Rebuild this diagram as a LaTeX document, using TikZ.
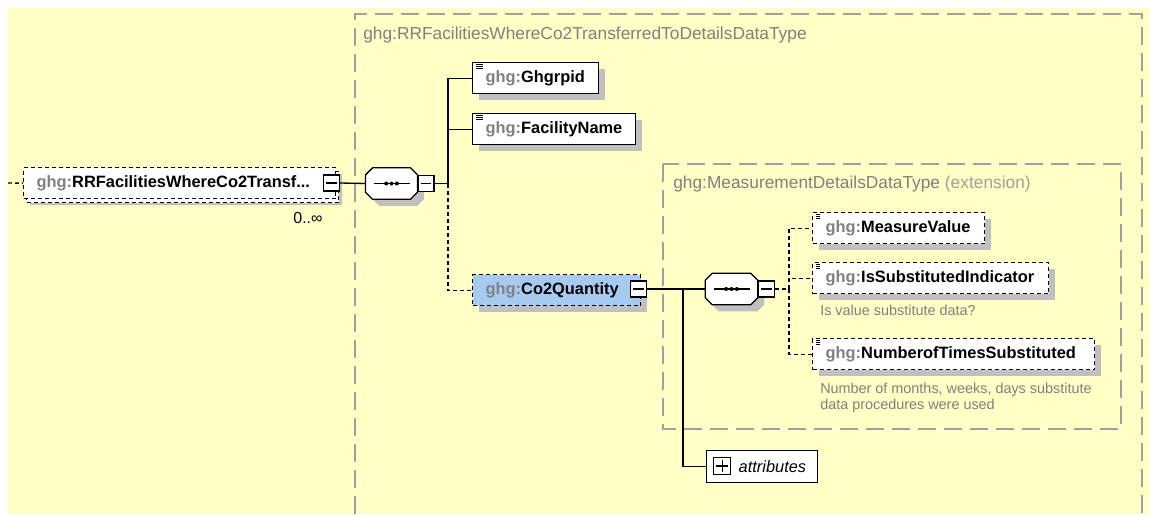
\documentclass[tikz,border=0pt]{standalone}
\usepackage{fontspec}
\setmainfont{Liberation Sans}
\usepackage{tikz}
\usetikzlibrary{shadows}
\definecolor{xsbg}{HTML}{FFFFC6}
\definecolor{xsgray}{HTML}{A0A0A0}
\definecolor{xsshadow}{HTML}{C0C0C0}
\definecolor{xsblue}{HTML}{A6CAF0}
\definecolor{xstext}{HTML}{808080}
\newcommand{\ghg}{\textcolor{xstext}{ghg:}}

\begin{document}
\begin{tikzpicture}[x=0.75pt,y=-0.75pt,
  elem/.style={draw, fill=white, line width=1pt, anchor=north west, inner xsep=9.75pt, inner ysep=0pt,
    minimum height=23.25pt, align=left, font=\fontsize{12.3}{14}\selectfont\bfseries,
    drop shadow={shadow xshift=5pt, shadow yshift=-5pt, fill=xsshadow, opacity=1}},
  optional/.style={dash pattern=on 3pt off 2.25pt},
  doc/.style={path picture={\foreach \k in {0,1,2}
    \draw[line width=0.6pt] ([xshift=2.5pt,yshift={-1.6pt-1.5pt*\k}]path picture bounding box.north west) -- ++(5pt,0);}},
  seqgrp/.style={minimum width=38.5pt, minimum height=23.25pt, inner sep=0pt},
  octagon/.style={insert path={([xshift=5.25pt]#1.north west) -- ([xshift=-5.25pt]#1.north east)
    -- ([yshift=-5.25pt]#1.north east) -- ([yshift=5.25pt]#1.south east) -- ([xshift=-5.25pt]#1.south east)
    -- ([xshift=5.25pt]#1.south west) -- ([yshift=5.25pt]#1.south west) -- ([yshift=-5.25pt]#1.north west) -- cycle}},
  minusbox/.style={draw, fill=white, line width=0.9pt, minimum size=12pt, inner sep=0pt, anchor=west,
    path picture={\draw[black, line width=0.9pt] ([xshift=-4pt]path picture bounding box.center) -- ([xshift=4pt]path picture bounding box.center);}},
  plusbox/.style={draw, fill=white, line width=0.9pt, minimum size=12.75pt, inner sep=0pt, anchor=west,
    path picture={\draw[black, line width=0.9pt] ([xshift=-4.5pt]path picture bounding box.center) -- ([xshift=4.5pt]path picture bounding box.center);
      \draw[black, line width=0.9pt] ([yshift=-4.5pt]path picture bounding box.center) -- ([yshift=4.5pt]path picture bounding box.center);}},
  attrbox/.style={draw, fill=white, line width=1pt, anchor=north west, inner xsep=0pt, inner ysep=0pt,
    minimum height=24pt, text width=83.25pt, align=left, font=\fontsize{12.3}{14}\selectfont\itshape},
  conn/.style={line width=1pt},
  typebox/.style={draw=xsgray, line width=1pt, dash pattern=on 13.5pt off 6pt},
  typelabel/.style={anchor=base west, text=xstext, inner sep=0pt, font=\fontsize{13}{15}\selectfont},
  note/.style={anchor=north west, text=xstext, inner sep=0pt, align=left, font=\fontsize{10.8}{12}\selectfont}]
\fill[white] (0,0) rectangle (1149,514);
\useasboundingbox (0,0) rectangle (1149,514);
\fill[xsbg] (8,8) rectangle (1149,514);

\draw[typebox] (355,514) -- (355,14) -- (1142,14) -- (1142,514);
\node[typelabel] (outerlbl) at (363,39) {ghg:RRFacilitiesWhereCo2TransferredToDetailsDataType};
\draw[typebox] (663,164) rectangle (1121,429);
\node[typelabel] (innerlbl) at (673,188) {ghg:MeasurementDetailsDataType \textcolor{xsgray}{(extension)}};

\coordinate (in) at (8,183);
\node[elem, optional, text width=214.5pt,
  copy shadow={shadow xshift=2.25pt, shadow yshift=-3pt, draw=black, fill=white, line width=1pt, optional}]
  (root) at (23,167) {\ghg RRFacilitiesWhereCo2Transf...};
\node[minusbox] (rootm) at (323,183) {};
\node[font=\fontsize{12}{14}\selectfont] (occurs) at (308,218) {0..∞};
\draw[conn, optional] (in) -- (root.west);

\node[seqgrp] (seq1) at (391.5,183.5) {};
\node[seqgrp, minimum width=39pt] (seq2) at (731.5,289) {};
\foreach \s in {seq1,seq2} {
  \fill[xsshadow, transform canvas={shift={(5pt,-5pt)}}, octagon=\s];
  \draw[fill=white, line width=1pt, octagon=\s];
  \draw[line width=1.1pt] ([xshift=-13.5pt]\s.center) -- ([xshift=13.5pt]\s.center);
  \foreach \d in {-4,0,4} \fill ([xshift=\d pt]\s.center) circle (1.5pt);
}
\node[minusbox] (seq1m) at (seq1.east) {};
\draw[conn] (rootm.east) -- (seq1.west);
\coordinate (t1) at (448,183.5);
\draw[conn] (seq1m.east) -- (t1);

\node[elem, doc, text width=75pt] (ghgrpid) at (472,62) {\ghg Ghgrpid};
\node[elem, doc, text width=102.75pt] (facility) at (472,113) {\ghg FacilityName};
\node[elem, optional, fill=xsblue, text width=106.5pt] (co2) at (472,274) {\ghg Co2Quantity};
\node[minusbox] (co2m) at (630,289) {};
\draw[conn] (t1) |- (ghgrpid.west);
\draw[conn] (t1) |- (facility.west);
\draw[conn, optional] (t1) |- (co2.west);

\node[minusbox] (seq2m) at (seq2.east) {};
\draw[conn] (co2m.east) -- (seq2.west);
\coordinate (t2) at (683,289);
\node[attrbox] (attr) at (706,450) {\hspace*{24pt}attributes};
\node[plusbox] (attrp) at (713,466) {};
\draw[conn] (t2) |- (attr.west);

\coordinate (t3) at (789,289);
\draw[conn, optional] (seq2m.east) -- (t3);
\node[elem, optional, doc, text width=109.5pt] (measure) at (812,212) {\ghg MeasureValue};
\node[elem, optional, doc, text width=157.5pt] (subst) at (812,262) {\ghg IsSubstitutedIndicator};
\node[note] (substnote) at (820,305) {Is value substitute data?};
\node[elem, optional, doc, text width=192pt] (times) at (812,338) {\ghg NumberofTimesSubstituted};
\node[note] (timesnote) at (820,382.5) {Number of months, weeks, days substitute\\data procedures were used};
\draw[conn, optional] (t3) |- (measure.west);
\draw[conn, optional] (t3) |- (subst.west);
\draw[conn, optional] (t3) |- (times.west);
\end{tikzpicture}
\end{document}
